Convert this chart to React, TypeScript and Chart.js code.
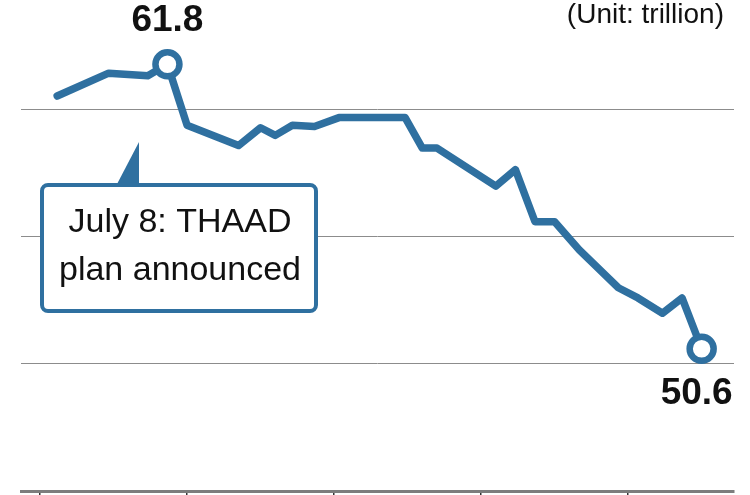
import React, { useEffect, useRef } from "react";
import { Chart, registerables } from "chart.js";

Chart.register(...registerables);

// x = day offset on the time axis, y = value in trillion
const days = [3.5, 14, 22, 26, 30, 40.5, 45, 48, 51.5, 56, 61, 74.5, 78, 81, 93, 97, 101, 105, 110, 118, 122, 127, 131, 135];
const values = [60.55, 61.45, 61.35, 61.8, 59.4, 58.6, 59.3, 59.0, 59.4, 59.35, 59.7, 59.7, 58.5, 58.5, 57.0, 57.65, 55.6, 55.6, 54.5, 53.0, 52.6, 52.0, 52.6, 50.6];
const xTicks = [0, 30, 60, 90, 120];
const yGrid = [50, 55, 60];
const highlightIdx = [3, 23];
const unitLabel = "(Unit: trillion)";
const calloutLines = ["July 8: THAAD", "plan announced"];

const BLUE = "#2f70a0";

const labelPlugin = {
  id: "labels",
  afterDatasetsDraw(chart: any) {
    const ctx = chart.ctx;
    const meta = chart.getDatasetMeta(0);
    ctx.save();
    // callout box
    ctx.fillStyle = BLUE;
    ctx.beginPath();
    ctx.moveTo(116, 186);
    ctx.lineTo(139, 142);
    ctx.lineTo(139, 186);
    ctx.closePath();
    ctx.fill();
    ctx.fillStyle = "#ffffff";
    ctx.strokeStyle = BLUE;
    ctx.lineWidth = 4;
    ctx.beginPath();
    (ctx as any).roundRect(42, 185, 274, 126, 6);
    ctx.fill();
    ctx.stroke();
    ctx.fillStyle = "#111111";
    ctx.font = "34px 'Liberation Sans', Arial, sans-serif";
    ctx.textAlign = "center";
    ctx.textBaseline = "alphabetic";
    ctx.fillText(calloutLines[0], 180, 232);
    ctx.fillText(calloutLines[1], 180, 280);

    // value labels
    ctx.font = "bold 37px 'Liberation Sans', Arial, sans-serif";
    const p0 = meta.data[highlightIdx[0]];
    ctx.textAlign = "center";
    ctx.fillText(values[highlightIdx[0]].toFixed(1), p0.x, p0.y - 33);
    const p1 = meta.data[highlightIdx[1]];
    ctx.fillText(values[highlightIdx[1]].toFixed(1), p1.x - 5, p1.y + 55);

    // unit
    ctx.font = "28px 'Liberation Sans', Arial, sans-serif";
    ctx.textAlign = "right";
    ctx.fillText(unitLabel, 724, 23);
    ctx.restore();
  },
};

export default function App() {
  const ref = useRef<HTMLCanvasElement>(null);
  useEffect(() => {
    document.body.style.margin = "0";
    const chart = new Chart(ref.current!, {
      type: "line",
      data: {
        datasets: [
          {
            data: days.map((d, i) => ({ x: d, y: values[i] })),
            borderColor: BLUE,
            borderWidth: 7.5,
            borderJoinStyle: "round",
            borderCapStyle: "round",
            tension: 0,
            pointRadius: (c: any) => (highlightIdx.includes(c.dataIndex) ? 12 : 0),
            pointBorderWidth: 6.5,
            pointBackgroundColor: "#ffffff",
            pointBorderColor: BLUE,
            pointHoverRadius: 0,
          } as any,
        ],
      },
      options: {
        responsive: false,
        animation: false,
        devicePixelRatio: 1,
        events: [],
        layout: { autoPadding: false, padding: { left: 21, right: 16, top: 0, bottom: 0 } },
        plugins: { legend: { display: false }, tooltip: { enabled: false } },
        scales: {
          x: {
            type: "linear",
            min: -3.88,
            max: 141.6,
            afterBuildTicks: (s: any) => {
              s.ticks = xTicks.map((v) => ({ value: v }));
            },
            ticks: { display: false },
            grid: {
              drawOnChartArea: false,
              drawTicks: true,
              tickLength: 4,
              color: "#333333",
              lineWidth: 1.5,
            },
            border: { display: true, color: "#7d7d7d", width: 3 },
          },
          y: {
            min: 45,
            max: 64.33,
            afterBuildTicks: (s: any) => {
              s.ticks = yGrid.map((v) => ({ value: v }));
            },
            ticks: { display: false },
            grid: { drawTicks: false, color: "#8c8c8c", lineWidth: 1 },
            border: { display: false },
          },
        },
      },
      plugins: [labelPlugin],
    });
    return () => chart.destroy();
  }, []);
  return <canvas ref={ref} width={750} height={495} style={{ display: "block" }} />;
}
